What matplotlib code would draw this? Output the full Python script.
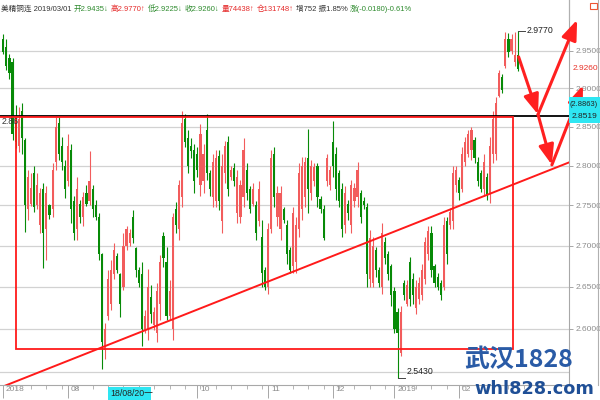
import matplotlib
matplotlib.use('Agg')
import matplotlib.pyplot as plt
import matplotlib.transforms as mtransforms
import numpy as np
from matplotlib.patches import Rectangle
from matplotlib.lines import Line2D
from matplotlib.text import Annotation
from matplotlib.ticker import FixedLocator, NullLocator, FuncFormatter, NullFormatter, FixedFormatter

plt.rcParams['font.family'] = ['Liberation Sans', 'Noto Sans CJK SC', 'DejaVu Sans']

# ---------------- data (daily candles, 2018-07-02 .. 2019-03-01) ----------------
opens = [2.965, 2.955, 2.940, 2.935, 2.855, 2.825, 2.870, 2.833, 2.745, 2.752,
         2.790, 2.750, 2.725, 2.770, 2.720, 2.750, 2.745, 2.805, 2.855, 2.825,
         2.800, 2.780, 2.820, 2.755, 2.720, 2.752, 2.735, 2.765, 2.755, 2.770,
         2.750, 2.735, 2.690, 2.575, 2.615, 2.630, 2.665, 2.688, 2.665, 2.650,
         2.700, 2.703, 2.735, 2.697, 2.670, 2.665, 2.598, 2.600, 2.638, 2.605,
         2.595, 2.630, 2.712, 2.680, 2.615, 2.600, 2.745, 2.720, 2.760, 2.860,
         2.835, 2.825, 2.820, 2.815, 2.775, 2.780, 2.845, 2.790, 2.760, 2.755,
         2.812, 2.730, 2.790, 2.830, 2.785, 2.797, 2.740, 2.735, 2.760, 2.795,
         2.770, 2.752, 2.750, 2.730, 2.711, 2.670, 2.650, 2.720, 2.815, 2.735,
         2.720, 2.745, 2.725, 2.695, 2.675, 2.680, 2.720, 2.745, 2.760, 2.810,
         2.765, 2.780, 2.800, 2.758, 2.745, 2.780, 2.775, 2.830, 2.815, 2.790,
         2.770, 2.725, 2.752, 2.725, 2.755, 2.760, 2.765, 2.755, 2.748, 2.660,
         2.655, 2.695, 2.670, 2.650, 2.705, 2.690, 2.675, 2.645, 2.620, 2.572,
         2.655, 2.630, 2.680, 2.660, 2.625, 2.635, 2.640, 2.660, 2.690, 2.715,
         2.675, 2.662, 2.655, 2.650, 2.730, 2.725, 2.730, 2.775, 2.782, 2.770,
         2.805, 2.815, 2.820, 2.833, 2.805, 2.790, 2.770, 2.785, 2.765, 2.815,
         2.815, 2.890, 2.915, 2.930, 2.965, 2.950, 2.935, 2.9435]
highs = [2.972, 2.966, 2.946, 2.940, 2.878, 2.875, 2.881, 2.835, 2.795, 2.790,
         2.800, 2.790, 2.772, 2.778, 2.774, 2.752, 2.803, 2.862, 2.862, 2.837,
         2.807, 2.841, 2.828, 2.761, 2.786, 2.757, 2.767, 2.775, 2.818, 2.776,
         2.757, 2.740, 2.691, 2.607, 2.670, 2.683, 2.703, 2.691, 2.667, 2.716,
         2.724, 2.720, 2.744, 2.699, 2.674, 2.680, 2.622, 2.672, 2.652, 2.626,
         2.655, 2.689, 2.717, 2.699, 2.658, 2.740, 2.754, 2.782, 2.870, 2.866,
         2.845, 2.835, 2.828, 2.824, 2.853, 2.828, 2.866, 2.795, 2.815, 2.820,
         2.820, 2.815, 2.832, 2.838, 2.799, 2.803, 2.795, 2.782, 2.835, 2.803,
         2.774, 2.778, 2.755, 2.780, 2.732, 2.674, 2.728, 2.820, 2.824, 2.774,
         2.774, 2.748, 2.732, 2.699, 2.748, 2.736, 2.803, 2.811, 2.811, 2.847,
         2.807, 2.803, 2.803, 2.761, 2.750, 2.815, 2.799, 2.857, 2.824, 2.795,
         2.778, 2.774, 2.757, 2.782, 2.778, 2.805, 2.769, 2.760, 2.753, 2.719,
         2.711, 2.699, 2.674, 2.728, 2.711, 2.694, 2.678, 2.650, 2.625, 2.627,
         2.658, 2.658, 2.686, 2.667, 2.658, 2.662, 2.678, 2.711, 2.724, 2.724,
         2.678, 2.667, 2.658, 2.736, 2.736, 2.746, 2.799, 2.799, 2.786, 2.824,
         2.837, 2.845, 2.849, 2.837, 2.811, 2.795, 2.815, 2.790, 2.837, 2.870,
         2.888, 2.924, 2.919, 2.975, 2.974, 2.972, 2.975, 2.977]
lows = [2.946, 2.924, 2.912, 2.833, 2.822, 2.817, 2.815, 2.717, 2.732, 2.749,
        2.742, 2.745, 2.716, 2.673, 2.683, 2.733, 2.735, 2.795, 2.807, 2.795,
        2.759, 2.774, 2.728, 2.707, 2.707, 2.728, 2.724, 2.749, 2.750, 2.736,
        2.732, 2.683, 2.553, 2.565, 2.611, 2.622, 2.659, 2.667, 2.614, 2.646,
        2.695, 2.700, 2.703, 2.662, 2.650, 2.580, 2.595, 2.587, 2.607, 2.599,
        2.584, 2.611, 2.674, 2.611, 2.611, 2.587, 2.716, 2.707, 2.748, 2.824,
        2.790, 2.810, 2.765, 2.786, 2.761, 2.765, 2.782, 2.761, 2.748, 2.748,
        2.744, 2.716, 2.778, 2.761, 2.782, 2.774, 2.728, 2.728, 2.748, 2.757,
        2.740, 2.749, 2.707, 2.724, 2.650, 2.646, 2.642, 2.716, 2.748, 2.724,
        2.707, 2.728, 2.678, 2.667, 2.667, 2.667, 2.711, 2.732, 2.748, 2.740,
        2.757, 2.774, 2.748, 2.740, 2.707, 2.774, 2.769, 2.786, 2.757, 2.748,
        2.711, 2.716, 2.732, 2.716, 2.748, 2.748, 2.728, 2.745, 2.650, 2.650,
        2.650, 2.662, 2.650, 2.642, 2.678, 2.658, 2.627, 2.595, 2.543, 2.568,
        2.634, 2.627, 2.627, 2.630, 2.618, 2.630, 2.634, 2.654, 2.683, 2.662,
        2.650, 2.646, 2.634, 2.646, 2.678, 2.720, 2.720, 2.766, 2.757, 2.766,
        2.799, 2.811, 2.807, 2.803, 2.774, 2.766, 2.761, 2.757, 2.753, 2.803,
        2.807, 2.888, 2.894, 2.927, 2.942, 2.946, 2.930, 2.9225]
closes = [2.948, 2.930, 2.920, 2.840, 2.830, 2.860, 2.835, 2.750, 2.785, 2.772,
          2.748, 2.775, 2.765, 2.715, 2.765, 2.738, 2.795, 2.850, 2.815, 2.805,
          2.770, 2.825, 2.745, 2.715, 2.770, 2.735, 2.760, 2.752, 2.780, 2.745,
          2.735, 2.690, 2.585, 2.600, 2.660, 2.670, 2.695, 2.670, 2.630, 2.700,
          2.720, 2.716, 2.710, 2.670, 2.655, 2.600, 2.615, 2.650, 2.618, 2.620,
          2.645, 2.680, 2.685, 2.615, 2.645, 2.735, 2.725, 2.775, 2.855, 2.830,
          2.800, 2.818, 2.780, 2.795, 2.840, 2.815, 2.790, 2.770, 2.805, 2.810,
          2.755, 2.800, 2.825, 2.770, 2.795, 2.780, 2.785, 2.775, 2.820, 2.765,
          2.745, 2.770, 2.715, 2.770, 2.667, 2.650, 2.720, 2.810, 2.760, 2.765,
          2.765, 2.732, 2.690, 2.670, 2.740, 2.725, 2.790, 2.800, 2.805, 2.770,
          2.800, 2.798, 2.760, 2.745, 2.710, 2.810, 2.795, 2.800, 2.770, 2.755,
          2.720, 2.765, 2.740, 2.775, 2.772, 2.795, 2.735, 2.750, 2.665, 2.710,
          2.700, 2.670, 2.655, 2.715, 2.685, 2.665, 2.640, 2.600, 2.595, 2.620,
          2.640, 2.652, 2.635, 2.640, 2.650, 2.655, 2.670, 2.705, 2.718, 2.670,
          2.655, 2.650, 2.640, 2.725, 2.690, 2.742, 2.790, 2.795, 2.765, 2.815,
          2.830, 2.840, 2.845, 2.810, 2.780, 2.770, 2.805, 2.762, 2.825, 2.860,
          2.880, 2.920, 2.898, 2.965, 2.948, 2.965, 2.944, 2.926]

month_pos = [0, 21, 44, 63, 86, 107, 127, 148]
month_labels = ['2018', '08', '', '10', '11', '12', '2019', '02']   # "09" hidden under cursor box
price_ticks = [2.95, 2.90, 2.85, 2.80, 2.75, 2.70, 2.65, 2.60]
grid_prices = [2.95, 2.90, 2.85, 2.80, 2.75, 2.70, 2.65, 2.60, 2.55]

box_x = [4.1, 165.4]            # consolidation rectangle (candle index)
box_y = [2.5763, 2.8618]        # consolidation rectangle (price)
trend_x = [-1.07, 183.66]
trend_y = [2.5315, 2.8040]
cross_price = 2.8631

# ---------------- figure ----------------
W, H = 600, 400
fig = plt.figure(figsize=(6, 4), dpi=100)
fig.patch.set_facecolor('white')

def fx(x):
    return x / W

def fy(y):
    return 1 - y / H

ax = fig.add_axes([0, fy(385), fx(569), 385 / H])
ax.set_yscale('log')
ax.set_ylim(2.5346, 3.0185)
ax.set_xlim(-1.07, 183.66)

RED = '#f25c5c'
GREEN = '#078a07'
o = np.array(opens); h = np.array(highs); l = np.array(lows); c = np.array(closes)
idx = np.arange(len(c))
up = c >= o
cols = np.where(up, RED, GREEN)

for p in grid_prices:
    ax.axhline(p, color='#d2d2d2', lw=0.9, zorder=0)

ax.vlines(idx, l, h, colors=cols, lw=0.8, zorder=2)
body = np.maximum(np.abs(c - o), 0.002)
ax.bar(idx, body, bottom=np.minimum(o, c), width=0.7, color=cols, lw=0, zorder=3)

# crosshair + consolidation box + trendline
ax.axhline(cross_price, color='black', lw=1.3, zorder=4)
ax.add_patch(Rectangle((box_x[0], box_y[0]), box_x[1] - box_x[0], box_y[1] - box_y[0],
                       fill=False, edgecolor='#ff1a1a', lw=1.3, zorder=5))
ax.plot([trend_x[0], box_x[0]], [box_y[1], box_y[1]], color='#ff1a1a', lw=1.3, zorder=5)
ax.plot(trend_x, trend_y, color='#ff1a1a', lw=1.4, zorder=5)

# arrows
aprops = dict(arrowstyle='-|>,head_length=1.0,head_width=0.38', color='#ff2020', lw=2.2,
              mutation_scale=12, shrinkA=0, shrinkB=0)
arrows = [((167.3, 2.9416), (173.6, 2.8657)),
          ((173.6, 2.8657), (186.3, 2.9915)),
          ((173.6, 2.8657), (178.1, 2.8009)),
          ((178.1, 2.8009), (188.2, 2.9039))]
for (x0, y0), (x1, y1) in arrows:
    ax.annotate('', xy=(x1, y1), xytext=(x0, y0), arrowprops=aprops,
                annotation_clip=False, zorder=6)

# high / low markers
ax.plot([167, 167, 169.4], [2.977, 2.977, 2.977], color='#444444', lw=0.7, zorder=6)
ax.text(169.9, 2.977, '2.9770', fontsize=6.3, va='center', ha='left', color='#222222')
ax.plot([128, 128, 130.4], [2.543, 2.5425, 2.5425], color='#444444', lw=0.7, zorder=6)
ax.text(130.9, 2.5497, '2.5430', fontsize=6.3, va='center', ha='left', color='#222222')

# axes styling
for s in ['top', 'left']:
    ax.spines[s].set_visible(False)
ax.spines['right'].set_color('#a8a8a8')
ax.spines['bottom'].set_color('#a8a8a8')
ax.spines['right'].set_linewidth(0.8)
ax.spines['bottom'].set_linewidth(0.8)

ax.yaxis.tick_right()
ax.yaxis.set_major_locator(FixedLocator(price_ticks))
ax.yaxis.set_minor_locator(NullLocator())
ax.yaxis.set_major_formatter(FuncFormatter(lambda v, p: f'{v:.4f}'))
ax.yaxis.set_minor_formatter(NullFormatter())
ax.tick_params(axis='y', which='both', right=True, left=False, length=3, width=0.6,
               color='#999999', labelsize=6, labelcolor='#8c8c8c', pad=1.5)

ax.xaxis.set_major_locator(FixedLocator(month_pos))
ax.xaxis.set_major_formatter(FixedFormatter(month_labels))
ax.xaxis.set_minor_locator(FixedLocator(list(range(4, 170, 5))))
ax.tick_params(axis='x', which='major', length=9, width=0.6, color='#999999',
               labelsize=6, labelcolor='#8c8c8c', pad=-8)
ax.tick_params(axis='x', which='minor', length=3, width=0.6, color='#aaaaaa')
off = mtransforms.ScaledTranslation(2 / 72, 0, fig.dpi_scale_trans)
for lbl in ax.get_xticklabels():
    lbl.set_ha('left')
    lbl.set_transform(lbl.get_transform() + off)

# right-axis extras
fig.add_artist(Line2D([fx(598), fx(598)], [fy(0), fy(385)], color='#b0b0b0', lw=0.8))
fig.add_artist(Line2D([fx(569), fx(569)], [fy(0), fy(20)], color='#b0b0b0', lw=0.8))
fig.text(fx(573), fy(68), '2.9260', color='#e8332a', fontsize=6, va='center', ha='left')
fig.add_artist(Rectangle((fx(569), fy(123)), fx(31), 26 / H, transform=fig.transFigure,
                         facecolor='#2ee6f2', edgecolor='none', zorder=5))
fig.text(fx(570), fy(104), '(2.8863)', color='#222222', fontsize=5.4, va='center', ha='left', zorder=6)
fig.text(fx(572), fy(117), '2.8519', color='#222222', fontsize=6, va='center', ha='left', zorder=6)
fig.text(fx(2), fy(122), '2.86', color='#333333', fontsize=6.3, va='center', ha='left')

# date cursor box
fig.add_artist(Rectangle((fx(108), fy(400)), fx(43), 13 / H, transform=fig.transFigure,
                         facecolor='#2ee6f2', edgecolor='none', zorder=5))
fig.text(fx(110), fy(393.5), '18/08/20一', color='#222222', fontsize=6.3, va='center', ha='left', zorder=6)

# header line
parts = [("美精铜连 2019/03/01", '#333333'), ("开2.9435↓", '#2e8b2e'), ("高2.9770↑", '#e52b2b'),
         ("低2.9225↓", '#2e8b2e'), ("收2.9260↓", '#2e8b2e'), ("量74438↑", '#e52b2b'),
         ("仓131748↑", '#e52b2b'), ("增752 振1.85%", '#333333'), ("涨(-0.0180)-0.61%", '#2e8b2e')]
HF = 5.5
prev = fig.text(fx(1), fy(9), parts[0][0], color=parts[0][1], fontsize=HF, va='center', ha='left')
for s, col in parts[1:]:
    a = Annotation(s, xy=(1, 0.5), xycoords=prev, xytext=(1.6, 0), textcoords='offset points',
                   va='center', ha='left', fontsize=HF, color=col)
    fig.add_artist(a)
    prev = a
fig.add_artist(Rectangle((fx(590), fy(9)), fx(7), 6 / H, transform=fig.transFigure,
                         facecolor='none', edgecolor='#ee5533', lw=0.8))

# watermark
fig.text(fx(464), fy(360), '武汉1828', color='#2a5ba6', fontsize=18, fontweight='bold',
         family=['Noto Sans CJK SC', 'DejaVu Sans'], va='center', ha='left', zorder=7)
fig.text(fx(474), fy(389), 'whl828.com', color='#1f4f96', fontsize=12.8, fontweight='bold',
         family=['DejaVu Sans'], va='center', ha='left', zorder=7)

fig.savefig('out.png', dpi=100, facecolor='white')
